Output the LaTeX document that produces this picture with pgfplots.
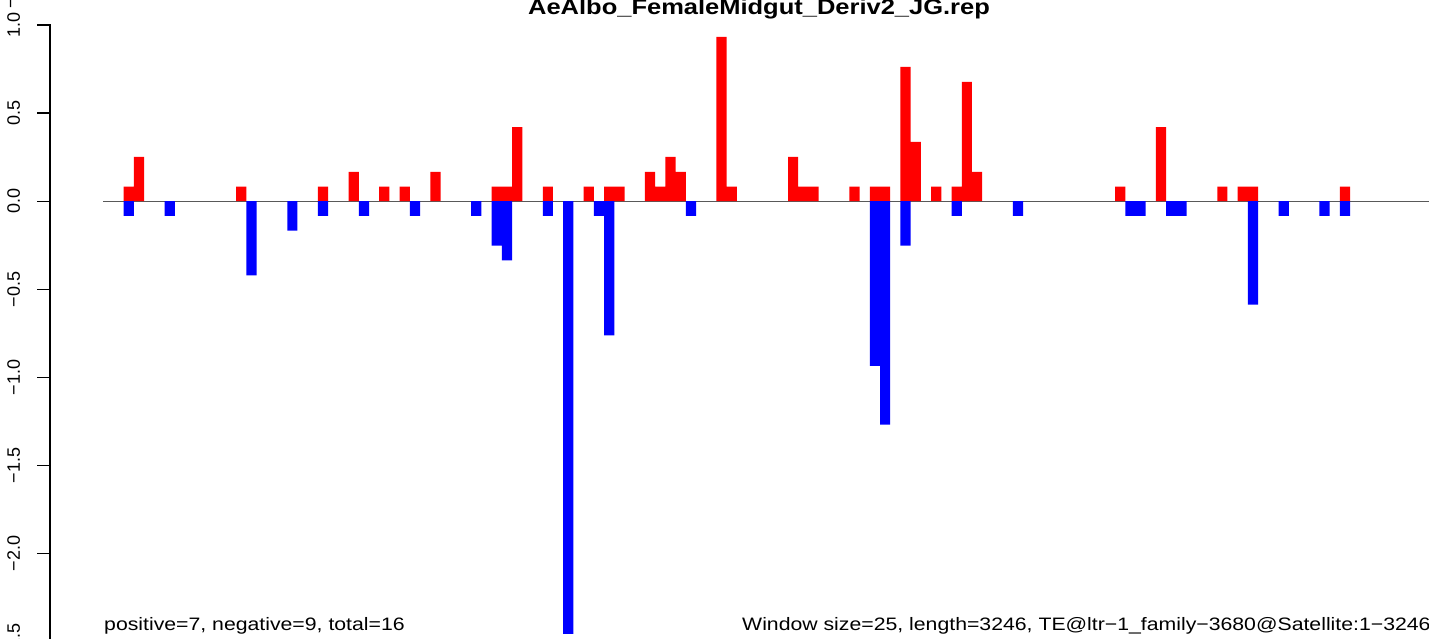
\documentclass[border=0pt]{standalone}
\usepackage{pgfplots}
\pgfplotsset{compat=1.18}
\usepackage{fontspec}
\setmainfont{Liberation Sans}
\newfontfamily\wfont[FakeStretch=1.18]{Liberation Sans}
\pgfplotstableread{
x y
2.5 0.083
3.5 0.252
13.5 0.083
21.5 0.083
24.5 0.166
27.5 0.083
29.5 0.083
32.5 0.166
38.5 0.083
39.5 0.083
40.5 0.421
43.5 0.083
47.5 0.083
49.5 0.083
50.5 0.083
53.5 0.166
54.5 0.083
55.5 0.252
56.5 0.166
60.5 0.932
61.5 0.083
67.5 0.252
68.5 0.083
69.5 0.083
73.5 0.083
75.5 0.083
76.5 0.083
78.5 0.762
79.5 0.336
81.5 0.083
83.5 0.083
84.5 0.677
85.5 0.166
99.5 0.083
103.5 0.421
109.5 0.083
111.5 0.083
112.5 0.083
121.5 0.083
}\posdata
\pgfplotstableread{
x y
2.5 -0.083
6.5 -0.083
14.5 -0.421
18.5 -0.167
21.5 -0.083
25.5 -0.083
30.5 -0.083
36.5 -0.083
38.5 -0.252
39.5 -0.336
43.5 -0.083
45.5 -2.456
48.5 -0.083
49.5 -0.762
57.5 -0.083
75.5 -0.934
76.5 -1.268
78.5 -0.252
83.5 -0.083
89.5 -0.083
100.5 -0.083
101.5 -0.083
104.5 -0.083
105.5 -0.083
112.5 -0.587
115.5 -0.083
119.5 -0.083
121.5 -0.083
}\negdata
\begin{document}
\begin{tikzpicture}
\begin{axis}[
  at={(0pt,0pt)}, anchor=south west, scale only axis,
  width=1379pt, height=616.7pt,
  xmin=-5.215, xmax=129.72, ymin=-2.5, ymax=1.0,
  axis y line=left, axis x line=none,
  y axis line style={-, draw=black, line width=1.2pt},
  ytick={-2.5,-2,-1.5,-1,-0.5,0,0.5,1},
  yticklabels={−2.5,−2.0,−1.5,−1.0,−0.5,0.0,0.5,1.0},
  tick align=outside, major tick length=12.7pt,
  every tick/.style={draw=black, line width=1.2pt},
  yticklabel style={xshift=-17pt, rotate=90, anchor=south, inner sep=0pt, font=\fontsize{18}{20}\selectfont},
  clip=false,
]
\addplot[black!65, line width=1pt, sharp plot, forget plot] coordinates {(0,0) (129.84,0)};
\addplot[ybar, bar width=1, bar shift=0pt, fill={rgb,255:red,255;green,0;blue,0}, draw=none] table[x=x,y=y] {\posdata};
\addplot[ybar, bar width=1, bar shift=0pt, fill={rgb,255:red,0;green,0;blue,255}, draw=none] table[x=x,y=y] {\negdata};
\end{axis}
% y axis line and tick marks (R style), as thin filled strips
\fill[black] (-0.6pt,-0.6pt) rectangle (0.6pt,617.3pt);
\foreach \yy in {0,88.1,176.2,264.3,352.4,440.5,528.6,616.7}
  \fill[black] (-12.7pt,\yy pt-0.6pt) rectangle (0pt,\yy pt+0.6pt);
\node[anchor=base, inner sep=0pt, font=\wfont\bfseries\fontsize{21.6}{24}\selectfont] at (709pt,627.2pt) {AeAlbo\_FemaleMidgut\_Deriv2\_JG.rep};
\node[anchor=base west, inner sep=0pt, font=\wfont\fontsize{18}{20}\selectfont] at (54pt,10.7pt) {positive=7, negative=9, total=16};
\node[anchor=base west, inner sep=0pt, font=\wfont\fontsize{18}{20}\selectfont] at (692pt,10.7pt) {Window size=25, length=3246, TE@ltr−1\_family−3680@Satellite:1−3246};
\node[rotate=90, inner sep=0pt, font=\fontsize{18}{20}\selectfont] at (-36.7pt,638pt) {−};
\pgfresetboundingbox
\useasboundingbox (-50pt,2.7pt) rectangle (1379pt,641.7pt);
\end{tikzpicture}
\end{document}
